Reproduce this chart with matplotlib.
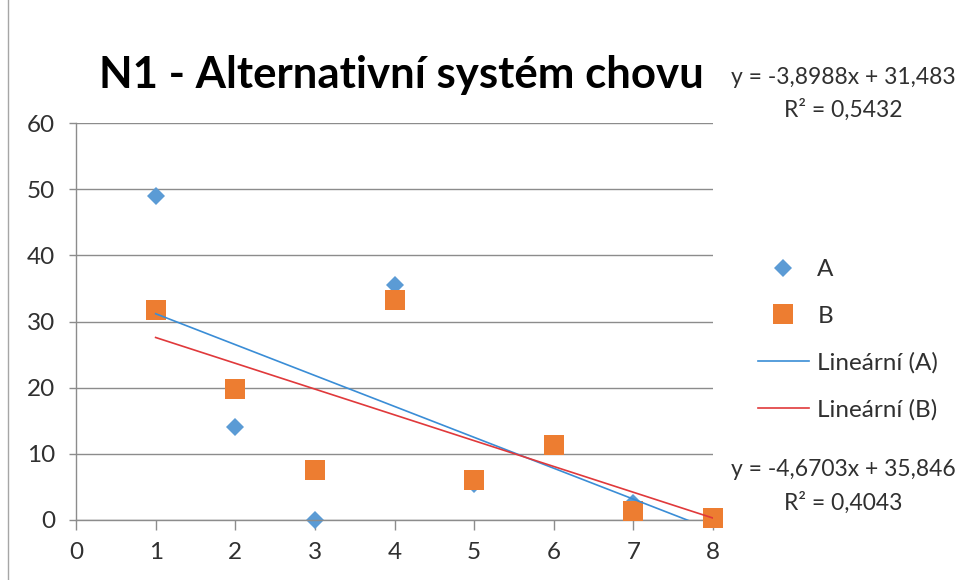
# -*- coding:UTF-8 -*-
import numpy as np
import matplotlib
matplotlib.use('Agg')
import matplotlib.pyplot as plt
from matplotlib.lines import Line2D

# data
x = [1, 2, 3, 4, 5, 6, 7, 8]
a_vals = [49, 14, 0, 35.5, 5.5, 11.5, 2.6, 0.5]
b_vals = [31.8, 19.8, 7.6, 33.2, 6, 11.4, 1.4, 0.3]

# linear trendlines (slope, intercept, R^2)
trend_a = (-4.6703, 35.846, 0.4043)
trend_b = (-3.8988, 31.483, 0.5432)

title = 'N1 - Alternativní systém chovu'
y_ticks = [0, 10, 20, 30, 40, 50, 60]
x_ticks = [0, 1, 2, 3, 4, 5, 6, 7, 8]

blue = '#5B9BD5'
orange = '#ED7D31'
line_a = '#3A8DD6'
line_b = '#E0393B'
grid_c = '#8C8C8C'
txt_c = '#303030'

plt.rcParams['font.family'] = ['Lato', 'DejaVu Sans']

fig = plt.figure(figsize=(9.66, 5.8), dpi=100)
ax = fig.add_axes([76/966, 1-520/580, (713-76)/966, (520-123)/580])

def fmt(v, nd):
    return ('%.*f' % (nd, v)).replace('.', ',')

xs = np.array([min(x), max(x)], dtype=float)
ax.plot(xs, trend_a[0]*xs + trend_a[1], color=line_a, lw=1.2, zorder=4)
ax.plot(xs, trend_b[0]*xs + trend_b[1], color=line_b, lw=1.2, zorder=4)

ax.plot(x, a_vals, 'D', color=blue, ms=8.7, mew=0, zorder=2, clip_on=False)
ax.plot(x, b_vals, 's', color=orange, ms=14, mew=0, zorder=3, clip_on=False)

ax.set_xlim(0, 8)
ax.set_ylim(0, 60)
ax.set_xticks(x_ticks)
ax.set_yticks(y_ticks)
ax.grid(axis='y', color=grid_c, lw=1)
ax.set_axisbelow(True)
for s in ['top', 'right']:
    ax.spines[s].set_visible(False)
for s in ['left', 'bottom']:
    ax.spines[s].set_color(grid_c)
    ax.spines[s].set_linewidth(1)
ax.tick_params(axis='x', length=7, width=1, color=grid_c, labelsize=17.5, pad=9, labelcolor=txt_c)
ax.tick_params(axis='y', length=5, width=1, color=grid_c, labelsize=17.5, pad=10, labelcolor=txt_c)

fig.text(401/966, 1-75/580, title, ha='center', va='center', fontsize=31.5, fontweight='bold', color='black')

# trendline equations
eq_fs = 16.5
fig.text(843/966, 1-78/580, 'y = %sx + %s' % (fmt(trend_b[0], 4), fmt(trend_b[1], 3)),
         ha='center', va='center', fontsize=eq_fs, color=txt_c)
fig.text(843/966, 1-110/580, 'R² = %s' % fmt(trend_b[2], 4),
         ha='center', va='center', fontsize=eq_fs, color=txt_c)
fig.text(843/966, 1-470/580, 'y = %sx + %s' % (fmt(trend_a[0], 4), fmt(trend_a[1], 3)),
         ha='center', va='center', fontsize=eq_fs, color=txt_c)
fig.text(843/966, 1-503/580, 'R² = %s' % fmt(trend_a[2], 4),
         ha='center', va='center', fontsize=eq_fs, color=txt_c)

handles = [
    Line2D([], [], ls='none', marker='D', color=blue, ms=8.7, mew=0),
    Line2D([], [], ls='none', marker='s', color=orange, ms=14, mew=0),
    Line2D([], [], color=line_a, lw=1.2),
    Line2D([], [], color=line_b, lw=1.2),
]
labels = ['A', 'B', 'Lineární (A)', 'Lineární (B)']
fig.legend(handles, labels, loc='center left', bbox_to_anchor=(753/966, 1-340/580),
           frameon=False, fontsize=17.5, labelspacing=1.05, handlelength=2.1,
           handletextpad=0.35, borderpad=0.2, borderaxespad=0, labelcolor=txt_c)

# chart frame edge
fig.add_artist(Line2D([8/966, 8/966], [0, 1], transform=fig.transFigure, color='#A6A6A6', lw=1))

fig.savefig('out.png', dpi=100)
